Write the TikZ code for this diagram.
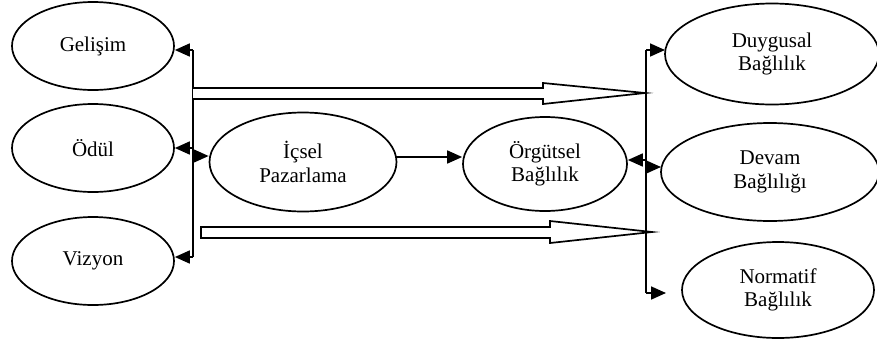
\documentclass[tikz,border=0pt]{standalone}
\usepackage{fontspec}
\setmainfont{Liberation Serif}
\usetikzlibrary{shapes.geometric,arrows.meta}
\begin{document}
\begin{tikzpicture}[x=1pt,y=-1pt,
  oval/.style={ellipse,draw,line width=1.7pt,inner sep=0pt,align=center,
    font=\fontsize{21}{23.5}\selectfont},
  conn/.style={line width=1.7pt},
  arr/.style={line width=1.7pt,-{Triangle[length=15pt,width=13pt]}},
  hollow/.style={draw,line width=1.7pt,line join=miter,fill=white}]
\useasboundingbox (0,0) rectangle (877,338);
% left ovals
\node[oval,minimum width=162pt,minimum height=88pt] (gel) at (93,46) {Gelişim};
\node[oval,minimum width=162pt,minimum height=88pt] (odul) at (93,148) {Ödül};
\node[oval,minimum width=162pt,minimum height=88pt] (viz) at (93,261) {Vizyon};
% middle ovals
\node[oval,minimum width=187pt,minimum height=99pt] (ic) at (303,162) {İçsel\\Pazarlama};
\node[oval,minimum width=164pt,minimum height=94pt] (org) at (545,164) {Örgütsel\\Bağlılık};
% right ovals
\node[oval,minimum width=214pt,minimum height=101pt] (duy) at (772,54) {Duygusal\\Bağlılık};
\node[oval,minimum width=218pt,minimum height=98pt] (dev) at (770,172) {Devam\\Bağlılığı};
\node[oval,minimum width=192pt,minimum height=96pt] (nor) at (778,290) {Normatif\\Bağlılık};
% left bus
\coordinate (lt) at (193,50);
\coordinate (lm) at (193,148);
\coordinate (li) at (193,156);
\coordinate (lb) at (193,257);
\draw[conn] (lt) -- (lb);
\draw[arr] (lt) -- (lt -| gel.east);
\draw[arr] (lm) -- (lm -| odul.east);
\draw[arr] (lb) -- (lb -| viz.east);
\draw[arr] (li) -- (li -| ic.west);
% right bus
\coordinate (rt) at (646,50);
\coordinate (ro) at (646,160);
\coordinate (rd) at (646,167);
\coordinate (rb) at (646,293);
\draw[conn] (rt) -- (rb);
\draw[arr] (rt) -- (665,50);
\draw[arr] (ro) -- (ro -| org.east);
\draw[arr] (rd) -- (661,167);
\draw[arr] (rb) -- (666,293);
% middle arrow
\coordinate (ie) at (396,157);
\draw[arr] (ie) -- (ie -| org.west);
% hollow arrows
\draw[hollow] (193,88) -- (543,88) -- (543,83) -- (645,93) -- (543,104) -- (543,99) -- (193,99);
\draw[hollow] (201,227) -- (550,227) -- (550,221) -- (652,232) -- (550,243) -- (550,238) -- (201,238) -- cycle;
\draw[conn] (646,232) -- (652,232);
\end{tikzpicture}
\end{document}
